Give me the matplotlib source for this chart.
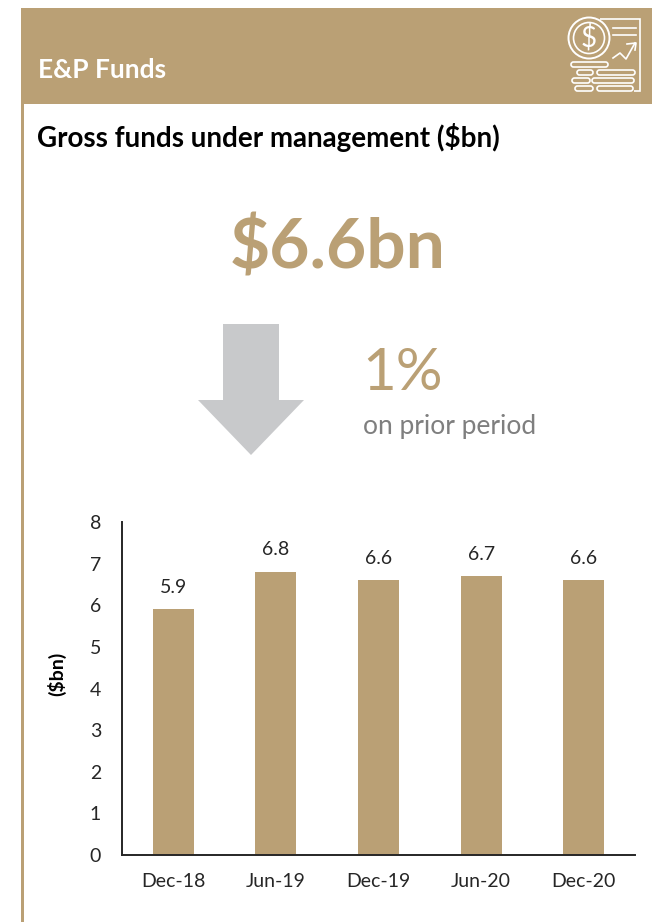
"""E&P funds panel: gross funds under management."""

import matplotlib

matplotlib.use("Agg")
import matplotlib.pyplot as plt
from matplotlib.patches import Circle, FancyBboxPatch, Polygon, Rectangle

plt.rcParams["font.family"] = ["Lato", "DejaVu Sans"]

periods = ["Dec-18", "Jun-19", "Dec-19", "Jun-20", "Dec-20"]
funds = [5.9, 6.8, 6.6, 6.7, 6.6]
y_ticks = [0, 1, 2, 3, 4, 5, 6, 7, 8]

GOLD = "#BAA075"
GREY = "#C8C9CB"
W, H = 652, 922

fig = plt.figure(figsize=(W / 100, H / 100), dpi=100)

# page layer in pixel coordinates, y pointing down
page = fig.add_axes([0, 0, 1, 1])
page.set_xlim(0, W)
page.set_ylim(H, 0)
page.axis("off")

page.add_patch(Rectangle((21, 8), W - 21, 96, color=GOLD, lw=0))
page.add_patch(Rectangle((21, 104), 3, H - 104, color=GOLD, lw=0))

page.text(38, 69.5, "E&P Funds", color="white", fontsize=19, fontweight="bold",
          va="center", ha="left")
page.text(37, 138, "Gross funds under management ($bn)", color="black", fontsize=20,
          fontweight="bold", va="center", ha="left")
page.text(338, 248, "$6.6bn", color=GOLD, fontsize=50, fontweight="bold",
          va="center", ha="center")
page.text(403, 373, "1%", color=GOLD, fontsize=42, va="center", ha="center")
page.text(450, 426, "on prior period", color="#7F7F7F", fontsize=19, va="center", ha="center")

# down arrow
page.add_patch(Polygon([(223, 324), (279, 324), (279, 400), (304, 400), (251, 455),
                        (198, 400), (223, 400)], closed=True, color=GREY, lw=0))

# icon: coin, document and coin stack
ic = dict(fill=False, ec="white", lw=1.2)
page.add_patch(Polygon([(600, 19), (640, 19), (640, 91), (634, 91)], closed=False, **ic))
page.add_patch(Circle((589, 38), 20.5, fc=GOLD, ec="white", lw=1.4))
page.add_patch(Circle((589, 38), 15.5, **ic))
page.text(589, 38, "$", color="white", fontsize=20, va="center", ha="center")
page.plot([613, 636], [28, 28], color="white", lw=1.2)
page.plot([613, 636], [35, 35], color="white", lw=1.2)
page.plot([613, 620, 626, 635], [58, 53, 59, 43], color="white", lw=1.2)
page.plot([627, 636, 635], [44, 43, 50], color="white", lw=1.2)
for x0, y0, w in [(571, 62, 37), (577, 70, 16), (597, 70, 38), (572, 78, 18),
                  (592, 78, 42), (575, 86, 18), (597, 86, 36)]:
    page.add_patch(FancyBboxPatch((x0, y0), w, 5, boxstyle="round,pad=0,rounding_size=2.5", **ic))

# bar chart
ax = fig.add_axes([122 / W, 1 - 855 / H, (635 - 122) / W, (855 - 522) / H])
bars = ax.bar(periods, funds, width=0.4, color=GOLD)
ax.set_xlim(-0.5, 4.5)
ax.set_ylim(0, 8)
ax.set_yticks(y_ticks)
ax.set_ylabel("($bn)", fontsize=14, fontweight="bold", color="black")
ax.yaxis.set_label_coords((66 - 122) / (635 - 122), (855 - 674) / (855 - 522))
ax.tick_params(axis="both", length=0, colors="#262626")
ax.tick_params(axis="x", pad=13, labelsize=14)
ax.tick_params(axis="y", pad=15, labelsize=14)
ax.spines["top"].set_visible(False)
ax.spines["right"].set_visible(False)
ax.spines["left"].set_color("#262626")
ax.spines["bottom"].set_color("#262626")
ax.spines["left"].set_linewidth(1.4)
ax.spines["bottom"].set_linewidth(1.4)
for bar, val in zip(bars, funds):
    ax.text(bar.get_x() + bar.get_width() / 2, val + 0.53, f"{val:.1f}", fontsize=14,
            color="#262626", ha="center", va="center")

fig.savefig("out.png", dpi=100)
plt.close(fig)
